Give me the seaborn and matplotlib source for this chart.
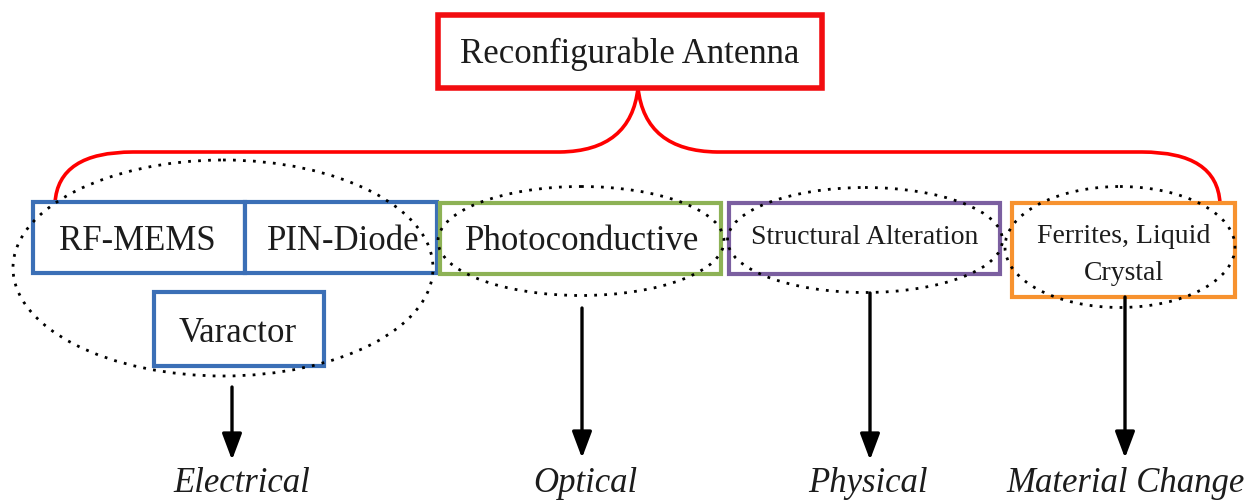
import matplotlib
matplotlib.use("Agg")
import matplotlib.pyplot as plt
from matplotlib.patches import Rectangle, Ellipse, PathPatch
from matplotlib.path import Path
import seaborn as sns

# ---- content ----
root_label = "Reconfigurable Antenna"
method_labels = ["RF-MEMS", "PIN-Diode", "Varactor", "Photoconductive",
                 "Structural Alteration", "Ferrites, Liquid\nCrystal"]
category_labels = ["Electrical", "Optical", "Physical", "Material Change"]

# ---- layout (pixel coordinates, y downwards) ----
ROOT_BOX = (438, 15, 822, 88)
METHOD_BOXES = [(33, 202, 245, 273), (245, 202, 437, 273), (154, 292, 324, 366),
                (440, 203, 721, 274), (729, 203, 1000, 274), (1012, 203, 1235, 297)]
METHOD_COLORS = ["#3B6FB6", "#3B6FB6", "#3B6FB6", "#8DB255", "#7B5FA0", "#F7922F"]
METHOD_TEXT = [(137, 250, 25), (343, 250, 25), (238, 342, 25),
               (582, 250, 25), (865, 244, 20), (1124, 243, 20)]
LINE_GAP = 37
GROUP_ELLIPSES = [(223, 268, 420, 216), (581, 241, 286, 109),
                  (865, 240, 275, 105), (1120, 247, 230, 121)]
ARROWS = [(232, 387, 460), (582, 308, 458), (870, 293, 460), (1125, 297, 458)]
CATEGORY_X = [242, 585, 868, 1126]
CATEGORY_BASE = 492

sns.set_theme(style="white")
plt.rcParams["font.family"] = ["Liberation Serif", "DejaVu Serif"]

fig = plt.figure(figsize=(12.55, 5.01), dpi=100)
ax = fig.add_axes([0, 0, 1, 1])
ax.set_xlim(0, 1255)
ax.set_ylim(501, 0)
ax.axis("off")

TXT = "#1c1c1c"

# root box
x0, y0, x1, y1 = ROOT_BOX
ax.add_patch(Rectangle((x0, y0), x1 - x0, y1 - y0, facecolor="white",
                       edgecolor="#F20D10", lw=4, zorder=2))
ax.text((x0 + x1) / 2, 63, root_label, ha="center", va="baseline",
        fontsize=25, color=TXT, zorder=5)

# red brace
verts = [(55, 203), (58, 152), (133, 152), (560, 152),
         (631, 151), (638, 88), (645, 151), (717, 152),
         (1142, 152), (1217, 152), (1220, 203)]
codes = [Path.MOVETO, Path.CURVE3, Path.CURVE3, Path.LINETO,
         Path.CURVE3, Path.CURVE3, Path.CURVE3, Path.CURVE3,
         Path.LINETO, Path.CURVE3, Path.CURVE3]
ax.add_patch(PathPatch(Path(verts, codes), facecolor="none", edgecolor="#FF0000",
                       lw=2.6, zorder=1.5))

# method boxes
for (bx0, by0, bx1, by1), col, (tx, ty, fs), lab in zip(METHOD_BOXES, METHOD_COLORS,
                                                        METHOD_TEXT, method_labels):
    ax.add_patch(Rectangle((bx0, by0), bx1 - bx0, by1 - by0, facecolor="white",
                           edgecolor=col, lw=3, zorder=2))
    for i, line in enumerate(lab.split("\n")):
        ax.text(tx, ty + i * LINE_GAP, line, ha="center", va="baseline",
                fontsize=fs, color=TXT, zorder=5)

# dotted group ellipses
for cx, cy, w, h in GROUP_ELLIPSES:
    ax.add_patch(Ellipse((cx, cy), w, h, facecolor="none", edgecolor="black",
                         lw=2.0, linestyle=(0, (1, 2.6)), zorder=3))

# arrows
for ax_x, ys, ye in ARROWS:
    ax.annotate("", xy=(ax_x, ye), xytext=(ax_x, ys),
                arrowprops=dict(arrowstyle="-|>,head_length=0.8,head_width=0.3",
                                mutation_scale=20, lw=2.4, color="black",
                                shrinkA=0, shrinkB=0), zorder=4)

# category labels
for cx, lab in zip(CATEGORY_X, category_labels):
    ax.text(cx, CATEGORY_BASE, lab, ha="center", va="baseline", fontsize=25,
            style="italic", color=TXT, zorder=5)

fig.savefig("out.png", dpi=100, facecolor="white")
